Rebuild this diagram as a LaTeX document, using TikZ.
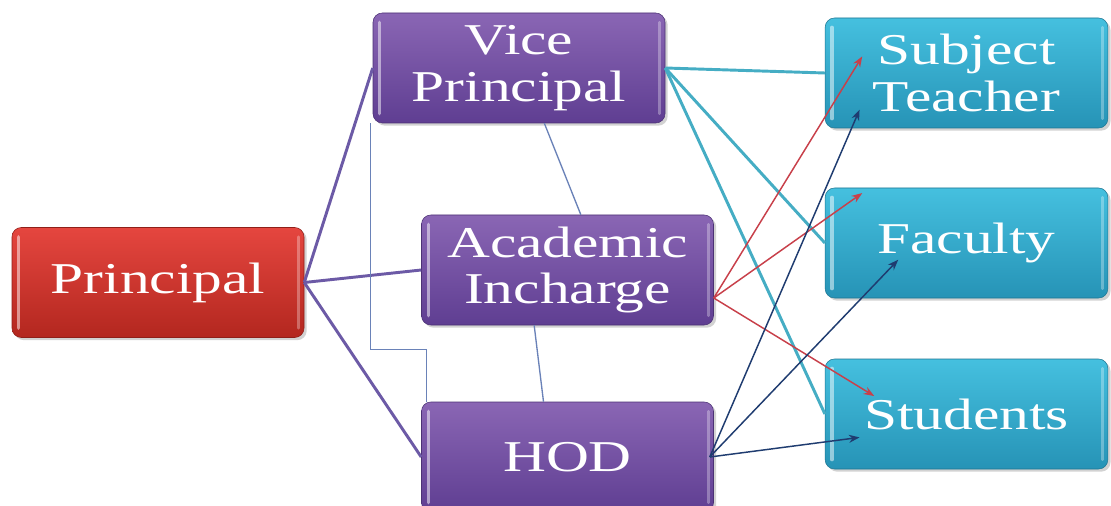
\documentclass[tikz,border=0pt]{standalone}
\usepackage{fontspec}
\setmainfont{Liberation Serif}[FakeStretch=1.35]
\usetikzlibrary{shadows,arrows.meta}

\definecolor{redtop}{HTML}{E5463F}
\definecolor{redbot}{HTML}{B3271F}
\definecolor{purtop}{HTML}{8A66B4}
\definecolor{purbot}{HTML}{5F3E92}
\definecolor{teatop}{HTML}{45C0DF}
\definecolor{teabot}{HTML}{2693B6}
\definecolor{linepur}{HTML}{6C5AA6}
\definecolor{lineblue}{HTML}{6A82B8}
\definecolor{lineteal}{HTML}{45ADC4}
\definecolor{arrred}{HTML}{C8404A}
\definecolor{arrblue}{HTML}{1F3C70}

\begin{document}
\begin{tikzpicture}[x=0.75pt, y=-0.75pt,
	box/.style = {shape=rectangle, rounded corners=7pt, align=center, text=white,
		font=\fontsize{33}{35}\selectfont, minimum width=219pt, minimum height=82.5pt,
		inner sep=0pt, drop shadow={opacity=0.35, shadow xshift=2pt, shadow yshift=-2pt},
		path picture={
			\draw[white, opacity=0.5, line width=2.5pt, line cap=round]
				([xshift=5pt,yshift=-7pt]path picture bounding box.north west) --
				([xshift=5pt,yshift=7pt]path picture bounding box.south west);
			\draw[white, opacity=0.3, line width=2pt, line cap=round]
				([xshift=-4pt,yshift=-7pt]path picture bounding box.north east) --
				([xshift=-4pt,yshift=7pt]path picture bounding box.south east);}},
	head/.style = {box, top color=redtop, bottom color=redbot, draw=redbot!80!black},
	staff/.style = {box, top color=purtop, bottom color=purbot, draw=purbot!80!black},
	unit/.style = {box, top color=teatop, bottom color=teabot, draw=teabot!80!black,
		minimum width=212pt},
	link/.style = {draw=linepur, line width=2.2pt},
	tie/.style = {draw=lineblue, line width=1pt},
	share/.style = {draw=lineteal, line width=2.2pt},
	redarr/.style = {draw=arrred, line width=1.1pt, -{Stealth[length=8pt,width=6pt]}},
	bluearr/.style = {draw=arrblue, line width=1.1pt, -{Stealth[length=8pt,width=6pt]}}]

	\useasboundingbox (0,0) rectangle (1111,506);
	\fill[white] (0,0) rectangle (1111,506);

	% boxes
	\node[head]  (pr)  at (158,282.5) {Principal};
	\node[staff] (vp)  at (519,68)    {Vice\\Principal};
	\node[staff] (ac)  at (567.5,270) {Academic\\Incharge};
	\node[staff] (hod) at (567.5,457) {HOD};
	\node[unit]  (st)  at (966.5,73)  {Subject\\Teacher};
	\node[unit]  (fa)  at (966.5,243) {Faculty};
	\node[unit]  (stu) at (966.5,414) {Students};

	% principal to staff
	\draw[link] (pr.east) -- (vp.west);
	\draw[link] (pr.east) -- (ac.west);
	\draw[link] (pr.east) -- (hod.west);

	% among staff
	\draw[tie] ([xshift=-1.5pt]vp.south west) -- ++(0,226) -| ([xshift=4pt]hod.north west);
	\draw[tie] ([xshift=19pt]vp.south) -- ([xshift=10pt]ac.north);
	\draw[tie] ([xshift=-25pt]ac.south) -- ([xshift=-18pt]hod.north);

	% vice principal to units
	\draw[share] (vp.east) -- (st.west);
	\draw[share] (vp.east) -- (fa.west);
	\draw[share] (vp.east) -- (stu.west);

	% academic incharge
	\draw[redarr] ([yshift=-21pt]ac.east) -- ([xshift=28pt,yshift=-29pt]st.north west);
	\draw[redarr] ([yshift=-21pt]ac.east) -- ([xshift=28pt,yshift=-4pt]fa.north west);
	\draw[redarr] ([yshift=-21pt]ac.east) -- ([xshift=37pt,yshift=-28pt]stu.north west);

	% hod
	\draw[bluearr] ([xshift=-3pt]hod.east) -- ([xshift=26pt,yshift=-69pt]st.north west);
	\draw[bluearr] ([xshift=-3pt]hod.east) -- ([xshift=55pt,yshift=-54pt]fa.north west);
	\draw[bluearr] ([xshift=-3pt]hod.east) -- ([xshift=26pt,yshift=-59pt]stu.north west);
\end{tikzpicture}
\end{document}
